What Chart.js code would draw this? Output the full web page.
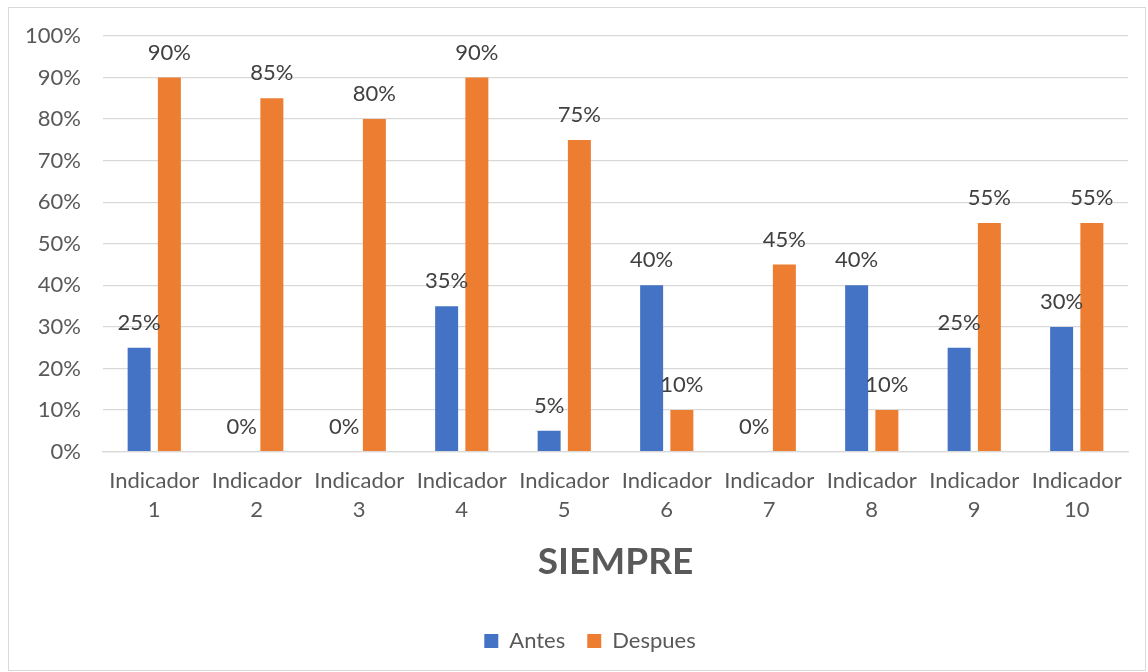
<!DOCTYPE html>
<html>
<head>
    <meta charset="utf-8">
    <title>SIEMPRE</title>
    <script src="https://cdn.jsdelivr.net/npm/chart.js"></script>
    <style>
        body {
            margin: 0;
            background-color: #ffffff;
        }
        #wrap {
            position: relative;
            width: 1148px;
            height: 672px;
        }
    </style>
</head>
<body>
    <div id="wrap">
        <canvas id="myChart" width="1148" height="672"></canvas>
    </div>
    <script>
        // datos
        var categorias = [
            ['Indicador', '1'], ['Indicador', '2'], ['Indicador', '3'], ['Indicador', '4'], ['Indicador', '5'],
            ['Indicador', '6'], ['Indicador', '7'], ['Indicador', '8'], ['Indicador', '9'], ['Indicador', '10']
        ];
        var antes = [25, 0, 0, 35, 5, 40, 0, 40, 25, 30];
        var despues = [90, 85, 80, 90, 75, 10, 45, 10, 55, 55];
        var ticksY = [0, 10, 20, 30, 40, 50, 60, 70, 80, 90, 100];

        var fuente = 'Lato, "Noto Sans", sans-serif';

        // borde gris del area del grafico
        var bordePlugin = {
            id: 'borde',
            beforeDraw: function (chart) {
                var ctx = chart.ctx;
                ctx.save();
                ctx.fillStyle = '#ffffff';
                ctx.fillRect(0, 0, chart.width, chart.height);
                ctx.strokeStyle = '#d9d9d9';
                ctx.lineWidth = 1;
                ctx.strokeRect(8.5, 7.5, 1137, 663);
                ctx.restore();
            },
            // la leyenda va centrada bajo el area de las barras
            afterLayout: function (chart) {
                if (chart.legend) {
                    chart.legend.left += 52;
                }
            }
        };

        // etiquetas de porcentaje encima de cada barra
        var etiquetasPlugin = {
            id: 'etiquetas',
            afterDatasetsDraw: function (chart) {
                var ctx = chart.ctx;
                ctx.save();
                ctx.font = '22px ' + fuente;
                ctx.fillStyle = '#404040';
                ctx.textAlign = 'center';
                ctx.textBaseline = 'middle';
                chart.data.datasets.forEach(function (ds, i) {
                    chart.getDatasetMeta(i).data.forEach(function (bar, j) {
                        ctx.fillText(ds.data[j] + '%', bar.x, bar.y - 25);
                    });
                });
                ctx.restore();
            }
        };

        var ctx = document.getElementById('myChart').getContext('2d');
        var chart = new Chart(ctx, {
            type: 'bar',
            data: {
                labels: categorias,
                datasets: [{
                    label: 'Antes',
                    data: antes,
                    backgroundColor: '#4472c4',
                    categoryPercentage: 0.59,
                    barPercentage: 0.76
                }, {
                    label: 'Despues',
                    data: despues,
                    backgroundColor: '#ed7d31',
                    categoryPercentage: 0.59,
                    barPercentage: 0.76
                }]
            },
            options: {
                responsive: false,
                animation: false,
                layout: {
                    padding: { top: 36, right: 20, left: 0, bottom: 10 }
                },
                plugins: {
                    legend: {
                        position: 'bottom',
                        labels: {
                            color: '#595959',
                            font: { family: fuente, size: 22 },
                            boxWidth: 14,
                            boxHeight: 14,
                            padding: 22
                        }
                    },
                    tooltip: { enabled: false }
                },
                scales: {
                    x: {
                        grid: { display: false, drawTicks: false },
                        border: { color: '#d9d9d9', width: 1.3 },
                        ticks: {
                            color: '#595959',
                            font: { family: fuente, size: 22, lineHeight: '29px' },
                            padding: 15,
                            maxRotation: 0
                        },
                        title: {
                            display: true,
                            text: 'SIEMPRE',
                            color: '#595959',
                            font: { family: fuente, size: 37, weight: 'bold' },
                            padding: { top: 0, bottom: 24 }
                        }
                    },
                    y: {
                        min: 0,
                        max: 100,
                        afterFit: function (scale) { scale.width = 103; },
                        afterBuildTicks: function (scale) {
                            scale.ticks = ticksY.map(function (v) { return { value: v }; });
                        },
                        grid: { color: '#d9d9d9', lineWidth: 1.3, drawTicks: false },
                        border: { display: false },
                        ticks: {
                            color: '#595959',
                            font: { family: fuente, size: 22 },
                            padding: 22,
                            callback: function (v) { return v + '%'; }
                        }
                    }
                }
            },
            plugins: [bordePlugin, etiquetasPlugin]
        });
    </script>
</body>
</html>
